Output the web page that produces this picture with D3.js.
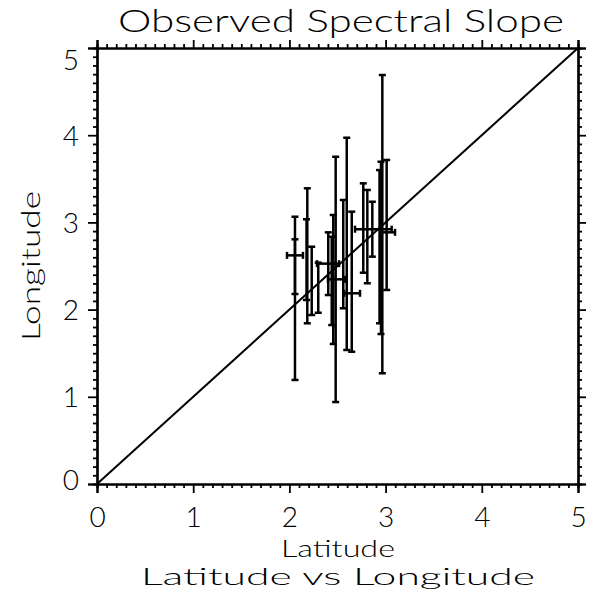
<!DOCTYPE html>
<html><head><meta charset="utf-8">
<script src="https://cdn.jsdelivr.net/npm/d3@7"></script>
<style>
html,body{margin:0;padding:0;background:#fff;}
text{font-family:"Lato","Open Sans",sans-serif;font-weight:300;fill:#000;}
</style></head>
<body>
<svg id="chart" width="599" height="603"></svg>
<script>
// ---- data ----
const title = "Observed Spectral Slope";
const xTitle = "Latitude";
const yTitle = "Longitude";
const subTitle = "Latitude vs Longitude";
const tickValues = [0, 1, 2, 3, 4, 5];
const ptX   = [2.058, 2.058, 2.186, 2.178, 2.232, 2.300, 2.404, 2.440, 2.456, 2.481, 2.560, 2.596, 2.648, 2.768, 2.810, 2.862, 2.952, 2.937, 2.966, 3.011];
const ptY   = [2.622, 2.000, 2.617, 2.573, 2.330, 2.251, 2.527, 2.330, 2.345, 2.347, 2.636, 2.754, 2.187, 2.936, 2.837, 2.922, 2.700, 2.770, 2.980, 2.886];
const yLow  = [2.179, 1.193, 1.843, 2.110, 1.938, 1.964, 2.167, 1.823, 1.606, 0.940, 2.015, 1.537, 1.517, 2.423, 2.302, 2.607, 1.720, 1.843, 1.270, 2.225];
const yHigh = [3.065, 2.806, 3.391, 3.036, 2.721, 2.538, 2.886, 2.836, 3.085, 3.753, 3.257, 3.971, 3.123, 3.448, 3.372, 3.237, 3.696, 3.600, 4.690, 3.716];
const xLow  = [1.975, null, null, null, null, null, 2.287, null, null, 2.401, null, null, 2.568, null, null, 2.682, null, null, null, 2.959];
const xHigh = [2.141, null, null, null, null, null, 2.516, null, null, 2.578, null, null, 2.734, null, null, 3.063, null, null, null, 3.098];
const diagonal = [[0, 0], [5, 5]];

// ---- drawing ----
const svg = d3.select("#chart");
const L = 97, R = 578, T = 48, B = 484;
const x = d3.scaleLinear().domain([0, 5]).range([L, R]);
const y = d3.scaleLinear().domain([0, 5]).range([B, T]);
const minor = d3.range(0, 5.0001, 0.1).map(v => +v.toFixed(1)).filter(v => Math.abs(v - Math.round(v)) > 1e-6);

const stroke = "#000";
function axisStyle(g){ g.select(".domain").attr("stroke", stroke).attr("stroke-width", 2.2); g.selectAll("line").attr("stroke", stroke).attr("stroke-width", 1.8); }

// minor ticks (all four sides, outward)
svg.append("g").attr("transform", `translate(0,${B})`).call(d3.axisBottom(x).tickValues(minor).tickSize(4).tickFormat("")).call(axisStyle);
svg.append("g").attr("transform", `translate(0,${T})`).call(d3.axisTop(x).tickValues(minor).tickSize(4).tickFormat("")).call(axisStyle);
svg.append("g").attr("transform", `translate(${L},0)`).call(d3.axisLeft(y).tickValues(minor).tickSize(4).tickFormat("")).call(axisStyle);
svg.append("g").attr("transform", `translate(${R},0)`).call(d3.axisRight(y).tickValues(minor).tickSize(4).tickFormat("")).call(axisStyle);

// major ticks
const fsTick = 28;
const ff = "Lato, Open Sans, sans-serif";
const gx = svg.append("g").attr("transform", `translate(0,${B})`)
  .call(d3.axisBottom(x).tickValues(tickValues).tickSize(9).tickPadding(14).tickFormat(d3.format("d"))).call(axisStyle);
gx.selectAll("text").attr("font-size", fsTick).attr("font-family", ff).attr("font-weight", 300).attr("fill", "#000");
svg.append("g").attr("transform", `translate(0,${T})`).call(d3.axisTop(x).tickValues(tickValues).tickSize(8).tickFormat("")).call(axisStyle);
const gy = svg.append("g").attr("transform", `translate(${L},0)`)
  .call(d3.axisLeft(y).tickValues(tickValues).tickSize(9).tickPadding(9).tickFormat(d3.format("d"))).call(axisStyle);
gy.selectAll("text").attr("font-size", fsTick).attr("font-family", ff).attr("font-weight", 300).attr("fill", "#000")
  .attr("dy", d => d === 5 ? "0.75em" : (d === 0 ? "0.2em" : "0.36em"));
svg.append("g").attr("transform", `translate(${R},0)`).call(d3.axisRight(y).tickValues(tickValues).tickSize(8).tickFormat("")).call(axisStyle);

// diagonal
svg.append("path").datum(diagonal)
  .attr("d", d3.line().x(d => x(d[0])).y(d => y(d[1])))
  .attr("stroke", stroke).attr("stroke-width", 2).attr("fill", "none");

// error bars
const idx = d3.range(ptX.length);
const cap = 3.5;
const eb = svg.append("g").attr("stroke", stroke).attr("stroke-width", 2.5).attr("fill", "none");
idx.forEach(i => {
  const g = eb.append("g");
  g.append("line").attr("x1", x(ptX[i])).attr("x2", x(ptX[i])).attr("y1", y(yLow[i])).attr("y2", y(yHigh[i]));
  g.append("line").attr("x1", x(ptX[i]) - cap).attr("x2", x(ptX[i]) + cap).attr("y1", y(yLow[i])).attr("y2", y(yLow[i]));
  g.append("line").attr("x1", x(ptX[i]) - cap).attr("x2", x(ptX[i]) + cap).attr("y1", y(yHigh[i])).attr("y2", y(yHigh[i]));
  if (xLow[i] !== null) {
    g.append("line").attr("x1", x(xLow[i])).attr("x2", x(xHigh[i])).attr("y1", y(ptY[i])).attr("y2", y(ptY[i]));
    g.append("line").attr("x1", x(xLow[i])).attr("x2", x(xLow[i])).attr("y1", y(ptY[i]) - cap).attr("y2", y(ptY[i]) + cap);
    g.append("line").attr("x1", x(xHigh[i])).attr("x2", x(xHigh[i])).attr("y1", y(ptY[i]) - cap).attr("y2", y(ptY[i]) + cap);
  }
});

// titles
svg.append("text").text(title).attr("x", 341).attr("y", 32).attr("text-anchor", "middle")
  .attr("font-size", 31).attr("textLength", 446).attr("lengthAdjust", "spacingAndGlyphs");
svg.append("text").text(xTitle).attr("x", 338).attr("y", 557).attr("text-anchor", "middle")
  .attr("font-size", 23).attr("textLength", 114).attr("lengthAdjust", "spacingAndGlyphs");
svg.append("text").text(subTitle).attr("x", 338).attr("y", 585).attr("text-anchor", "middle")
  .attr("font-size", 24).attr("textLength", 394).attr("lengthAdjust", "spacingAndGlyphs");
svg.append("text").text(yTitle).attr("transform", "translate(40,266) rotate(-90)").attr("text-anchor", "middle")
  .attr("font-size", 26).attr("textLength", 150).attr("lengthAdjust", "spacingAndGlyphs");
</script>
</body></html>
